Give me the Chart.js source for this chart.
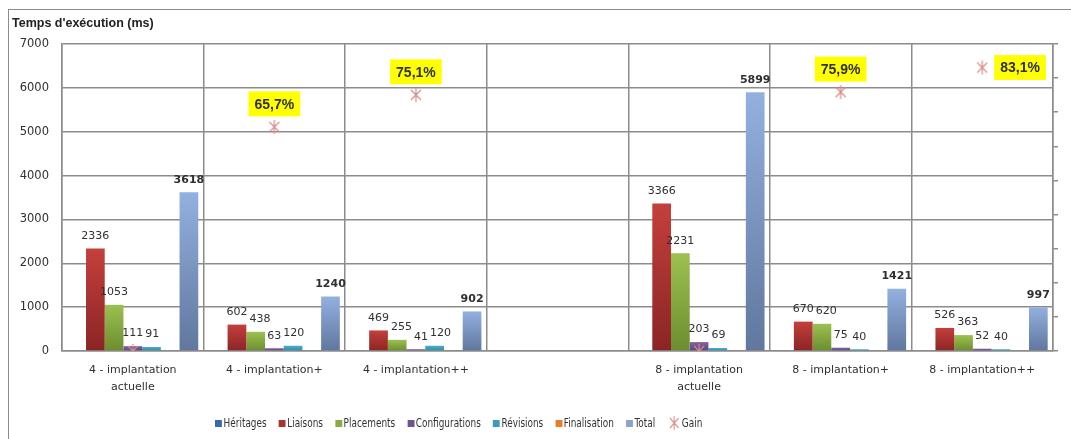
<!DOCTYPE html>
<html>
<head>
<meta charset="utf-8">
<script src="https://cdn.jsdelivr.net/npm/chart.js@4.4.1/dist/chart.umd.min.js"></script>
<style>
    body { margin: 0; background: #fff; }
    #wrap { position: relative; width: 1071px; height: 439px; overflow: hidden; }
    #frame { position: absolute; left: 8px; top: 9px; width: 2000px; height: 1000px;
             border-top: 1px solid #8c8c8c; border-left: 1px solid #8c8c8c; }
    #legend { position: absolute; left: 215px; top: 415px; display: flex; align-items: center;
              font: 11.5px 'DejaVu Sans Condensed', 'DejaVu Sans', sans-serif; color: #333;
              transform: scaleX(0.86); transform-origin: left center; white-space: nowrap; }
    #legend .item { display: flex; align-items: center; margin-right: 14px; }
    #legend .box { width: 8px; height: 7px; margin-right: 2px; }
    #legend canvas { margin-right: 1px; }
</style>
</head>
<body>
<div id="wrap">
    <div id="frame"></div>
    <canvas id="chart"></canvas>
    <div id="legend"></div>
</div>
<script>
const categories = [
    ['4 - implantation', 'actuelle'], '4 - implantation+', '4 - implantation++', '',
    ['8 - implantation', 'actuelle'], '8 - implantation+', '8 - implantation++'
];
const heritages      = [0, 0, 0, null, 0, 0, 0];
const liaisons       = [2336, 602, 469, null, 3366, 670, 526];
const placements     = [1053, 438, 255, null, 2231, 620, 363];
const configurations = [111, 63, 41, null, 203, 75, 52];
const revisions      = [91, 120, 120, null, 69, 40, 40];
const finalisation   = [0, 0, 0, null, 0, 0, 0];
const total          = [3618, 1240, 902, null, 5899, 1421, 997];
const gain           = [0, 65.7, 75.1, null, 0, 75.9, 83.1];   // %

const gridColor = '#8c8c8c';
const textColor = '#303030';

// Excel-like star marker (X + vertical bar)
const star = document.createElement('canvas');
star.width = 16;
star.height = 16;
const sc = star.getContext('2d');
sc.strokeStyle = '#d98b89';
sc.lineWidth = 1.2;
sc.beginPath();
sc.moveTo(3, 3); sc.lineTo(13, 13);
sc.moveTo(13, 3); sc.lineTo(3, 13);
sc.moveTo(8, 1); sc.lineTo(8, 15);
sc.stroke();

function barFill(top, bottom) {
    return ctx => {
        const chart = ctx.chart;
        if (!chart.chartArea || ctx.raw == null)
            return top;
        const y = chart.scales.y;
        const g = chart.ctx.createLinearGradient(0, y.getPixelForValue(ctx.raw), 0, y.getPixelForValue(0));
        g.addColorStop(0, top);
        g.addColorStop(1, bottom);
        return g;
    };
}

const series = [
    { label: 'Héritages', data: heritages, top: '#4f81bd', bottom: '#2c5a94', key: '#3a68a8' },
    { label: 'Liaisons', data: liaisons, top: '#c43f3c', bottom: '#8a2524', key: '#aa3331' },
    { label: 'Placements', data: placements, top: '#9cc151', bottom: '#6b8d2f', key: '#88ab43' },
    { label: 'Configurations', data: configurations, top: '#8064a2', bottom: '#5a4280', key: '#6e5393' },
    { label: 'Révisions', data: revisions, top: '#4bb0cb', bottom: '#2a8aa4', key: '#3a9db8' },
    { label: 'Finalisation', data: finalisation, top: '#f79646', bottom: '#d06a1a', key: '#e67c2c' },
    { label: 'Total', data: total, top: '#93b0e0', bottom: '#60779e', key: '#8aa4d2' }
];
const labelled = ['Liaisons', 'Placements', 'Configurations', 'Révisions', 'Total'];

const valueLabels = {
    id: 'valueLabels',
    afterDatasetsDraw(chart) {
        const c = chart.ctx;
        c.save();
        c.textAlign = 'center';
        c.textBaseline = 'bottom';
        c.fillStyle = textColor;
        chart.data.labels.forEach((_, i) => {
            let prev = null;
            chart.data.datasets.forEach((ds, d) => {
                if (!labelled.includes(ds.label) || ds.data[i] == null)
                    return;
                const el = chart.getDatasetMeta(d).data[i];
                const bold = ds.label === 'Total';
                c.font = (bold ? 'bold ' : '') + '11px "DejaVu Sans"';
                const txt = String(ds.data[i]);
                const w = c.measureText(txt).width;
                let x = el.x;
                const y = el.y - 7;
                if (prev && Math.abs(prev.y - y) < 12 && prev.right + 2 > x - w / 2)
                    x = prev.right + 2 + w / 2;
                c.fillText(txt, x, y);
                prev = { right: x + w / 2, y };
            });
        });

        // gain labels
        const gi = chart.data.datasets.findIndex(ds => ds.label === 'Gain');
        const area = chart.chartArea;
        c.font = 'bold 14px "Liberation Sans"';
        c.textBaseline = 'middle';
        chart.getDatasetMeta(gi).data.forEach((pt, i) => {
            const v = gain[i];
            if (!v)
                return;
            const txt = v.toFixed(1).replace('.', ',') + '%';
            const w = c.measureText(txt).width + 12;
            const h = 25;
            let cx = pt.x, cy = pt.y - 23;
            if (cy - h / 2 < area.top) {
                cx = pt.x + 12 + w / 2;
                cy = pt.y;
            }
            c.fillStyle = '#ffff00';
            c.fillRect(cx - w / 2, cy - h / 2, w, h);
            c.fillStyle = textColor;
            c.fillText(txt, cx, cy + 1);
        });
        c.restore();
    }
};

const datasets = series.map(s => ({
    type: 'bar',
    label: s.label,
    data: s.data,
    backgroundColor: barFill(s.top, s.bottom),
    borderWidth: 0,
    categoryPercentage: 0.925,
    barPercentage: 1.0,
    yAxisID: 'y'
}));
datasets.push({
    type: 'line',
    label: 'Gain',
    data: gain,
    showLine: false,
    pointStyle: star,
    yAxisID: 'y2',
    order: -1
});

new Chart(document.getElementById('chart'), {
    type: 'bar',
    data: { labels: categories, datasets },
    options: {
        responsive: true,
        maintainAspectRatio: false,
        animation: false,
        layout: {
            padding: { left: 12, right: 0, top: 0, bottom: 0 }
        },
        plugins: {
            legend: { display: false },
            tooltip: { enabled: false },
            title: {
                display: true,
                text: "Temps d'exécution (ms)",
                align: 'start',
                color: '#222',
                font: { family: 'Liberation Sans', size: 12.5, weight: 'bold' },
                padding: { top: 16, bottom: 13 }
            }
        },
        scales: {
            x: {
                grid: { color: gridColor, lineWidth: 1.5, drawTicks: false, offset: true },
                border: { color: gridColor, width: 1.5 },
                ticks: {
                    color: textColor,
                    padding: 10,
                    maxRotation: 0,
                    autoSkip: false,
                    font: { family: 'DejaVu Sans', size: 11, lineHeight: 1.6 }
                },
                afterFit(s) { s.height = 88; }
            },
            y: {
                min: 0,
                max: 7000,
                grid: { color: gridColor, lineWidth: 1.5, drawTicks: false },
                border: { color: gridColor, width: 1.5 },
                ticks: {
                    stepSize: 1000,
                    padding: 13,
                    color: textColor,
                    font: { family: 'DejaVu Sans', size: 11.5 },
                    callback: v => String(v)
                },
                afterFit(s) { s.width = 50; }
            },
            y2: {
                position: 'right',
                min: 0,
                max: 90,
                grid: { drawOnChartArea: false, drawTicks: true, tickLength: 5, color: gridColor, lineWidth: 1.5 },
                border: { color: gridColor, width: 1.5 },
                ticks: { stepSize: 10, display: false },
                afterFit(s) { s.width = 18; }
            }
        }
    },
    plugins: [valueLabels]
});

// legend
const legend = document.getElementById('legend');
series.forEach(s => {
    const item = document.createElement('div');
    item.className = 'item';
    item.innerHTML = `<div class="box" style="background:${s.key}"></div><span>${s.label}</span>`;
    legend.appendChild(item);
});
const gItem = document.createElement('div');
gItem.className = 'item';
const gIcon = document.createElement('canvas');
gIcon.width = 16;
gIcon.height = 16;
gIcon.getContext('2d').drawImage(star, 0, 0);
gItem.appendChild(gIcon);
gItem.insertAdjacentHTML('beforeend', '<span>Gain</span>');
legend.appendChild(gItem);
</script>
</body>
</html>
